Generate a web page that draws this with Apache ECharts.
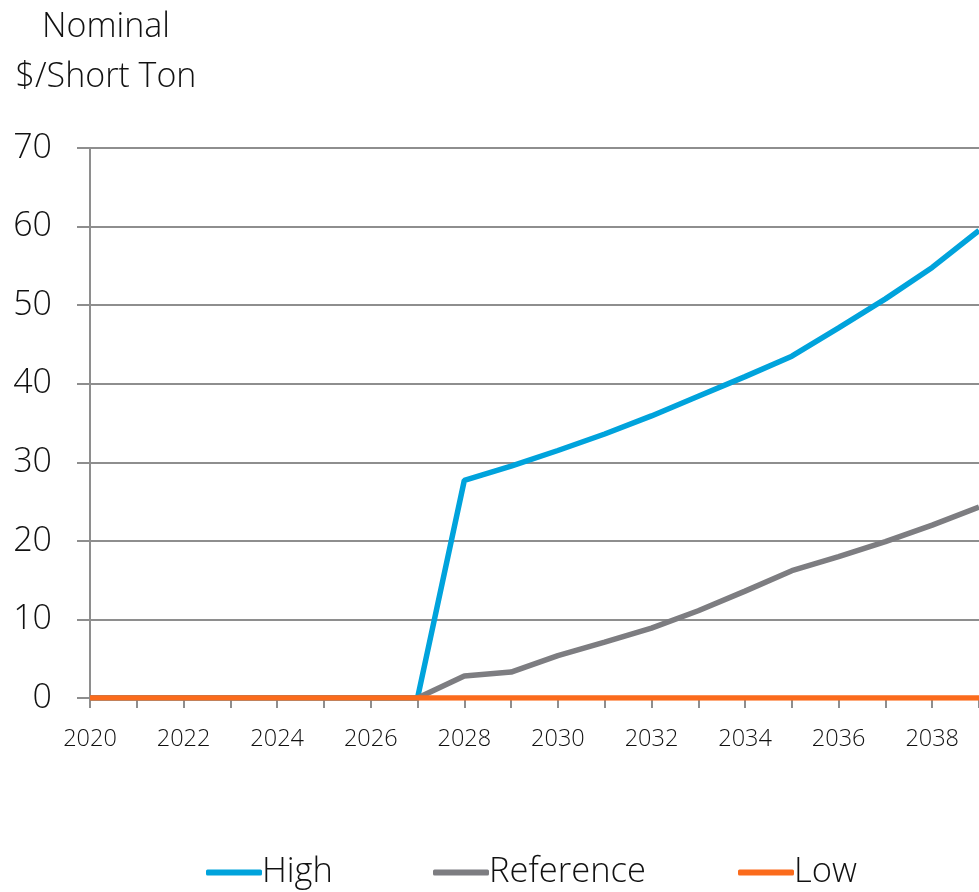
<!DOCTYPE html>
<html>
<head>
<meta charset="utf-8">
<script src="https://cdn.jsdelivr.net/npm/echarts@6/dist/echarts.min.js"></script>
<style>
  html, body { margin: 0; padding: 0; background: #fff; }
  #chart { width: 979px; height: 892px; }
</style>
</head>
<body>
<div id="chart"></div>
<script>
// Years on the horizontal axis
const years = ['2020','2021','2022','2023','2024','2025','2026','2027','2028','2029',
               '2030','2031','2032','2033','2034','2035','2036','2037','2038','2039'];

// Price paths, nominal $/short ton
const high = [0, 0, 0, 0, 0, 0, 0, 0, 27.7, 29.5, 31.5, 33.6, 35.9, 38.4, 40.9, 43.5, 47.1, 50.8, 54.8, 59.5];
const reference = [0, 0, 0, 0, 0, 0, 0, 0, 2.8, 3.3, 5.4, 7.1, 8.9, 11.1, 13.6, 16.2, 18.0, 19.9, 22.0, 24.3];
const low = [0, 0, 0, 0, 0, 0, 0, 0, 0, 0, 0, 0, 0, 0, 0, 0, 0, 0, 0, 0];

// Series names, in legend order
const seriesNames = ['High', 'Reference', 'Low'];

// Y-axis ticks
const yMin = 0, yMax = 70, yStep = 10;

const FONT = '"Open Sans", "Noto Sans", sans-serif';
const TXT = '#111';
const GRID = '#8e8e8e';

const chart = echarts.init(document.getElementById('chart'), null, { renderer: 'canvas' });

// One legend block per series so each entry sits at its own place
const legendLeft = [201, 428, 733];
const legends = seriesNames.map((name, i) => ({
  bottom: -3,
  left: legendLeft[i],
  itemWidth: 56,
  itemHeight: 6,
  icon: 'roundRect',
  textStyle: { fontFamily: FONT, fontSize: 34.5, fontWeight: 300, color: TXT, padding: [0, 0, 0, -5] },
  data: [name]
}));

chart.setOption({
  animation: false,
  backgroundColor: '#fff',
  color: ['#00a3dc', '#7d7d81', '#fb6b1c'],
  title: {
    text: 'Nominal\n$/Short Ton',
    left: 101,
    top: -3,
    textAlign: 'center',
    textStyle: {
      fontFamily: FONT, fontSize: 34, fontWeight: 300, color: TXT, lineHeight: 50
    }
  },
  legend: legends,
  grid: { left: 90, right: -5, top: 148, bottom: 194, containLabel: false },
  xAxis: {
    type: 'category',
    data: years,
    boundaryGap: false,
    axisLine: { lineStyle: { color: GRID, width: 2 } },
    axisTick: { show: true, interval: 0, length: 10, lineStyle: { color: GRID, width: 2 } },
    axisLabel: {
      interval: 1, margin: 29, fontFamily: FONT, fontSize: 23.5, fontWeight: 300, color: TXT
    },
    splitLine: { show: false }
  },
  yAxis: {
    type: 'value',
    min: yMin, max: yMax, interval: yStep,
    axisLine: { show: true, lineStyle: { color: GRID, width: 2 } },
    axisTick: { show: true, length: 13, lineStyle: { color: GRID, width: 2 } },
    axisLabel: { margin: 38, fontFamily: FONT, fontSize: 34, fontWeight: 300, color: TXT },
    splitLine: { show: true, lineStyle: { color: GRID, width: 2 } }
  },
  series: [
    { name: seriesNames[0], type: 'line', data: high, symbol: 'none', lineStyle: { width: 5.5 } },
    { name: seriesNames[1], type: 'line', data: reference, symbol: 'none', lineStyle: { width: 5.5 } },
    { name: seriesNames[2], type: 'line', data: low, symbol: 'none', lineStyle: { width: 5.5 } }
  ]
});
</script>
</body>
</html>
